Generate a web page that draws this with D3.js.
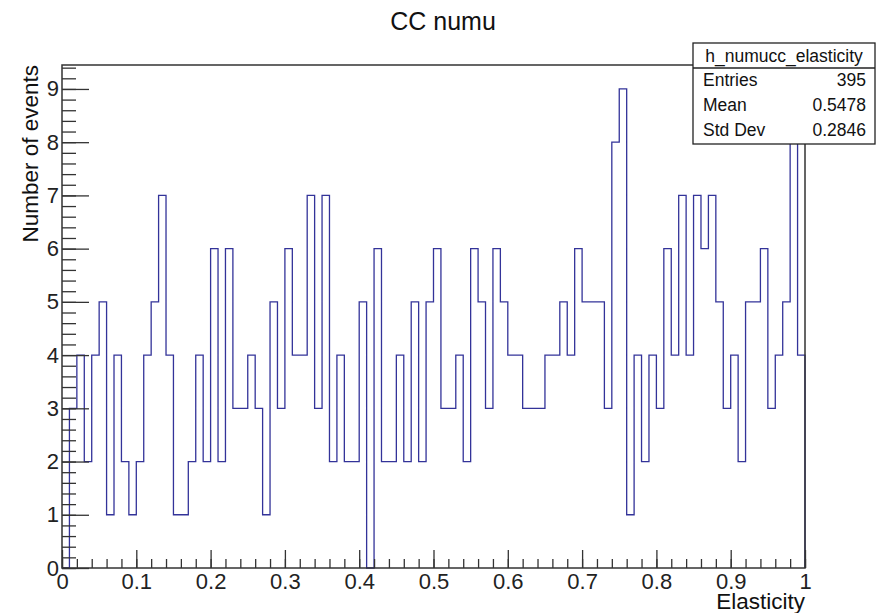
<!DOCTYPE html>
<html>
<head>
<meta charset="utf-8">
<script src="https://cdn.jsdelivr.net/npm/d3@7"></script>
<style>
  body { margin: 0; background: #fff; }
  svg { display: block; font-family: "Liberation Sans", Arial, sans-serif; }
</style>
</head>
<body>
<svg id="chart" width="885" height="613"></svg>
<script>
// bin contents, 100 bins over [0, 1]
const counts = [
  0, 3, 4, 2, 4, 5, 1, 4, 2, 1,
  2, 4, 5, 7, 4, 1, 1, 2, 4, 2,
  6, 2, 6, 3, 3, 4, 3, 1, 5, 3,
  6, 4, 4, 7, 3, 7, 2, 4, 2, 2,
  5, 0, 6, 2, 2, 4, 2, 5, 2, 5,
  6, 3, 3, 4, 2, 6, 5, 3, 6, 5,
  4, 4, 3, 3, 3, 4, 4, 5, 4, 6,
  5, 5, 5, 3, 8, 9, 1, 4, 2, 4,
  3, 6, 4, 7, 4, 7, 6, 7, 5, 3,
  4, 2, 5, 5, 6, 3, 4, 5, 8, 4
];
const xTicks = [0, 0.1, 0.2, 0.3, 0.4, 0.5, 0.6, 0.7, 0.8, 0.9, 1];
const yTicks = [0, 1, 2, 3, 4, 5, 6, 7, 8, 9];
const statLabels = ["Entries", "Mean", "Std Dev"];
const statValues = ["395", "0.5478", "0.2846"];

const svg = d3.select("#chart");
const frame = {left: 62, right: 805, top: 65, bottom: 568};
const axisColor = "#333";
const histColor = "#333399";

const x = d3.scaleLinear().domain([0, 1]).range([frame.left, frame.right]);
const y = d3.scaleLinear().domain([0, 9.45]).range([frame.bottom, frame.top]);

// histogram outline
const binW = 1 / counts.length;
const pts = [[0, 0]];
counts.forEach((c, i) => {
    pts.push([i * binW, c]);
    pts.push([(i + 1) * binW, c]);
});
pts.push([1, 0]);

svg.append("path")
    .datum(pts)
    .attr("fill", "none")
    .attr("stroke", histColor)
    .attr("stroke-width", 1.3)
    .attr("d", d3.line().x(d => x(d[0])).y(d => y(d[1])));

// frame, drawn over the histogram like ROOT does
svg.append("rect")
    .attr("x", frame.left).attr("y", frame.top)
    .attr("width", frame.right - frame.left)
    .attr("height", frame.bottom - frame.top)
    .attr("fill", "none")
    .attr("stroke", axisColor)
    .attr("stroke-width", 1.5);

// minor ticks
const xMinor = d3.range(0, 1.0001, 0.02);
const yMinor = d3.range(0, 9.45, 0.2);

svg.append("g")
    .attr("transform", `translate(0,${frame.bottom})`)
    .call(d3.axisBottom(x).tickValues(xMinor).tickSize(-9).tickFormat(""))
    .call(g => g.select(".domain").remove())
    .selectAll("line").attr("stroke", axisColor).attr("stroke-width", 1.3);

svg.append("g")
    .attr("transform", `translate(${frame.left},0)`)
    .call(d3.axisLeft(y).tickValues(yMinor).tickSize(-14).tickFormat(""))
    .call(g => g.select(".domain").remove())
    .selectAll("line").attr("stroke", axisColor).attr("stroke-width", 1.3);

// major ticks with labels
const xAxis = svg.append("g")
    .attr("transform", `translate(0,${frame.bottom})`)
    .call(d3.axisBottom(x).tickValues(xTicks).tickSize(-18).tickPadding(5)
        .tickFormat(d => d3.format("")(+d.toFixed(1))));
xAxis.select(".domain").remove();
xAxis.selectAll("line").attr("stroke", axisColor).attr("stroke-width", 1.3);
xAxis.selectAll("text").attr("font-size", 22).attr("fill", "#222")
    .attr("font-family", "Liberation Sans, Arial, sans-serif");

const yAxis = svg.append("g")
    .attr("transform", `translate(${frame.left},0)`)
    .call(d3.axisLeft(y).tickValues(yTicks).tickSize(-27).tickPadding(3));
yAxis.select(".domain").remove();
yAxis.selectAll("line").attr("stroke", axisColor).attr("stroke-width", 1.3);
yAxis.selectAll("text").attr("font-size", 22).attr("fill", "#222")
    .attr("font-family", "Liberation Sans, Arial, sans-serif");

// titles
svg.append("text")
    .attr("x", 443).attr("y", 30)
    .attr("text-anchor", "middle")
    .attr("font-size", 25)
    .attr("fill", "#111")
    .text("CC numu");

svg.append("text")
    .attr("x", frame.right).attr("y", 609)
    .attr("text-anchor", "end")
    .attr("font-size", 22.5)
    .attr("fill", "#111")
    .text("Elasticity");

svg.append("text")
    .attr("transform", `translate(38,${frame.top}) rotate(-90)`)
    .attr("text-anchor", "end")
    .attr("font-size", 22.5)
    .attr("fill", "#111")
    .text("Number of events");

// stats box
const box = {x: 693, y: 43, w: 182, h: 101, head: 25, row: 25};
const stats = svg.append("g");
stats.append("rect")
    .attr("x", box.x).attr("y", box.y)
    .attr("width", box.w).attr("height", box.h)
    .attr("fill", "#fff")
    .attr("stroke", "#222")
    .attr("stroke-width", 1.3);
stats.append("line")
    .attr("x1", box.x).attr("x2", box.x + box.w)
    .attr("y1", box.y + box.head).attr("y2", box.y + box.head)
    .attr("stroke", "#222").attr("stroke-width", 1.3);
stats.append("text")
    .attr("x", box.x + box.w / 2).attr("y", box.y + 19)
    .attr("text-anchor", "middle")
    .attr("font-size", 17.5).attr("fill", "#111")
    .text("h_numucc_elasticity");
statLabels.forEach((s, i) => {
    const yy = box.y + box.head + 18 + i * box.row;
    stats.append("text")
        .attr("x", box.x + 10).attr("y", yy)
        .attr("font-size", 17.5).attr("fill", "#111")
        .text(s);
    stats.append("text")
        .attr("x", box.x + box.w - 9).attr("y", yy)
        .attr("text-anchor", "end")
        .attr("font-size", 17.5).attr("fill", "#111")
        .text(statValues[i]);
});
</script>
</body>
</html>
